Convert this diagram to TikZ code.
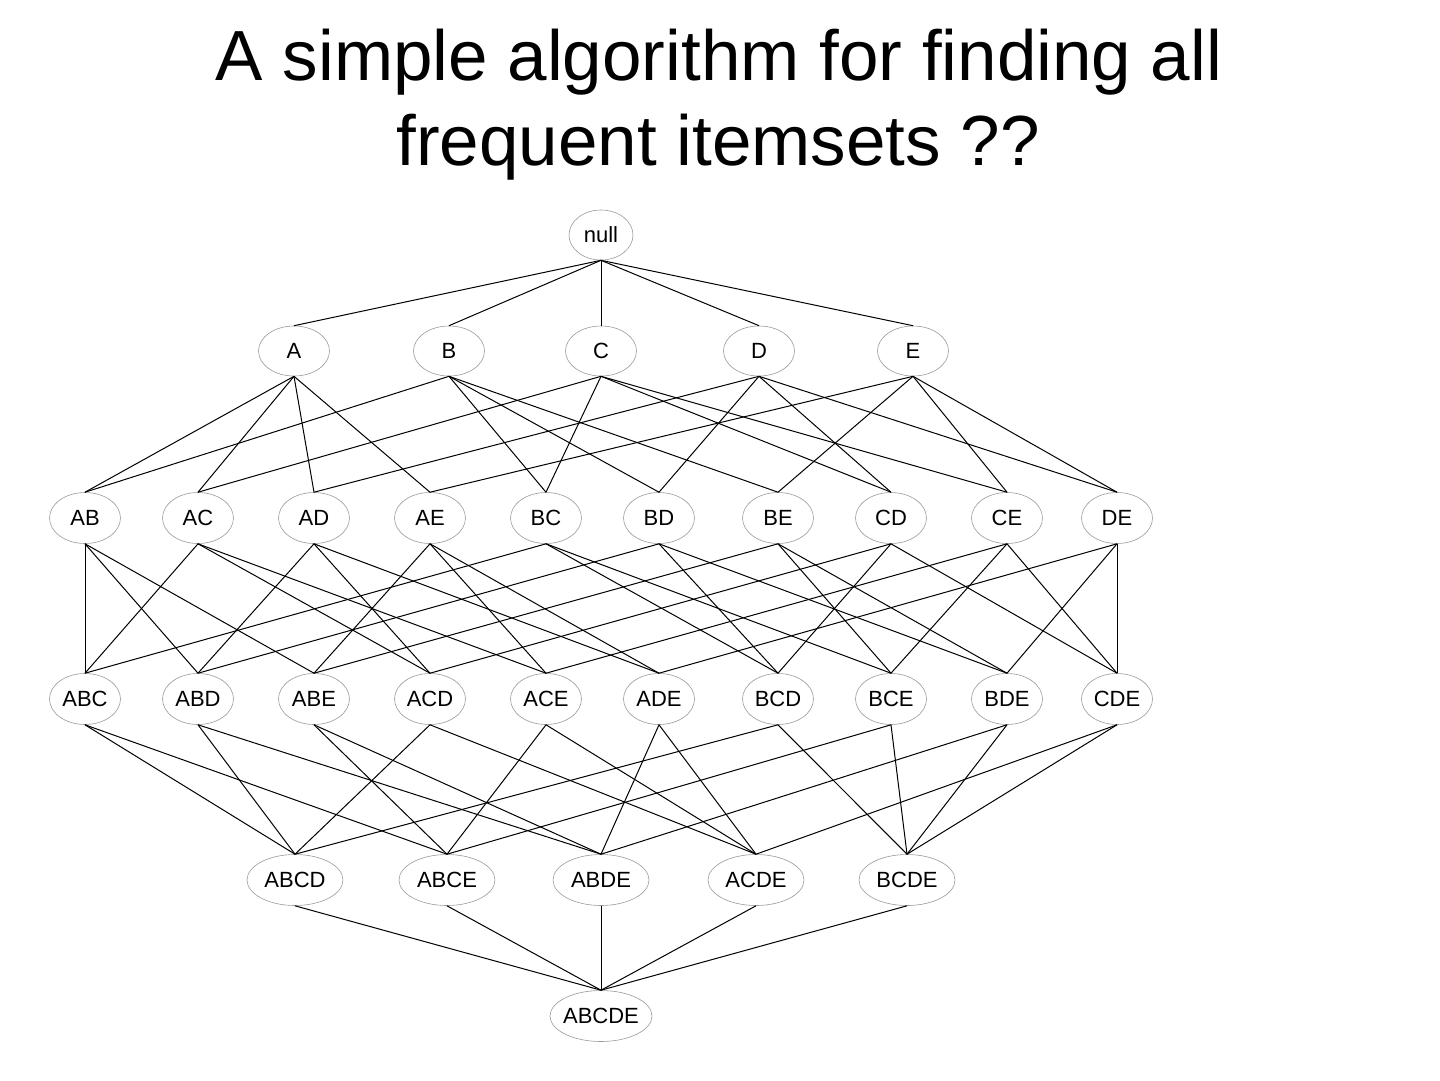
\documentclass[tikz,border=0pt]{standalone}
\usepackage{fontspec}
\setmainfont{Liberation Sans}
\usetikzlibrary{shapes.geometric}
\begin{document}
\begin{tikzpicture}[x=1pt,y=-1pt,
  setnode/.style={ellipse,draw=gray!80,line width=0.6pt,inner sep=0pt,
    minimum width=71pt,minimum height=51pt,font=\fontsize{22}{24}\selectfont},
  edge/.style={draw=black,line width=1pt},
  titletext/.style={font=\fontsize{71}{80}\selectfont,anchor=base,inner sep=0pt}]
\useasboundingbox (0,0) rectangle (1440,1080);
\node[titletext] (t1) at (719,80) {A simple algorithm for finding all};
\node[titletext] (t2) at (718,165) {frequent itemsets ??};
% level 0
\node[setnode,minimum width=64pt,minimum height=50pt] (null) at (601,235) {\makebox[0pt]{null}};
% level 1
\foreach \n/\x in {A/294,B/449,C/601,D/759,E/913}
  \node[setnode,minimum height=50pt] (\n) at (\x,351) {\makebox[0pt]{\n}};
% level 2
\foreach \n/\x in {AB/85,AC/198,AD/314,AE/430,BC/546,BD/659,BE/778,CD/891,CE/1007,DE/1117}
  \node[setnode] (\n) at (\x,518) {\makebox[0pt]{\n}};
% level 3
\foreach \n/\x in {ABC/85,ABD/198,ABE/314,ACD/430,ACE/546,ADE/659,BCD/778,BCE/891,BDE/1007,CDE/1117}
  \node[setnode] (\n) at (\x,699) {\makebox[0pt]{\n}};
% level 4
\foreach \n/\x in {ABCD/295,ABCE/447,ABDE/601,ACDE/756,BCDE/907}
  \node[setnode,minimum width=96pt] (\n) at (\x,880) {\makebox[0pt]{\n}};
% level 5
\node[setnode,minimum width=102pt] (ABCDE) at (601,1016) {\makebox[0pt]{ABCDE}};
% edges
\foreach \p/\c in {null/A,null/B,null/C,null/D,null/E,
  A/AB,B/AB,A/AC,C/AC,A/AD,D/AD,A/AE,E/AE,B/BC,C/BC,B/BD,D/BD,B/BE,E/BE,
  C/CD,D/CD,C/CE,E/CE,D/DE,E/DE,
  AB/ABC,AC/ABC,BC/ABC,AB/ABD,AD/ABD,BD/ABD,AB/ABE,AE/ABE,BE/ABE,
  AC/ACD,AD/ACD,CD/ACD,AC/ACE,AE/ACE,CE/ACE,AD/ADE,AE/ADE,DE/ADE,
  BC/BCD,BD/BCD,CD/BCD,BC/BCE,BE/BCE,CE/BCE,BD/BDE,BE/BDE,DE/BDE,
  CD/CDE,CE/CDE,DE/CDE,
  ABC/ABCD,ABD/ABCD,ACD/ABCD,BCD/ABCD,
  ABC/ABCE,ABE/ABCE,ACE/ABCE,BCE/ABCE,
  ABD/ABDE,ABE/ABDE,ADE/ABDE,BDE/ABDE,
  ACD/ACDE,ACE/ACDE,ADE/ACDE,CDE/ACDE,
  BCD/BCDE,BCE/BCDE,BDE/BCDE,CDE/BCDE,
  ABCD/ABCDE,ABCE/ABCDE,ABDE/ABCDE,ACDE/ABCDE,BCDE/ABCDE}
  \draw[edge] (\p.south) -- (\c.north);
\end{tikzpicture}
\end{document}
